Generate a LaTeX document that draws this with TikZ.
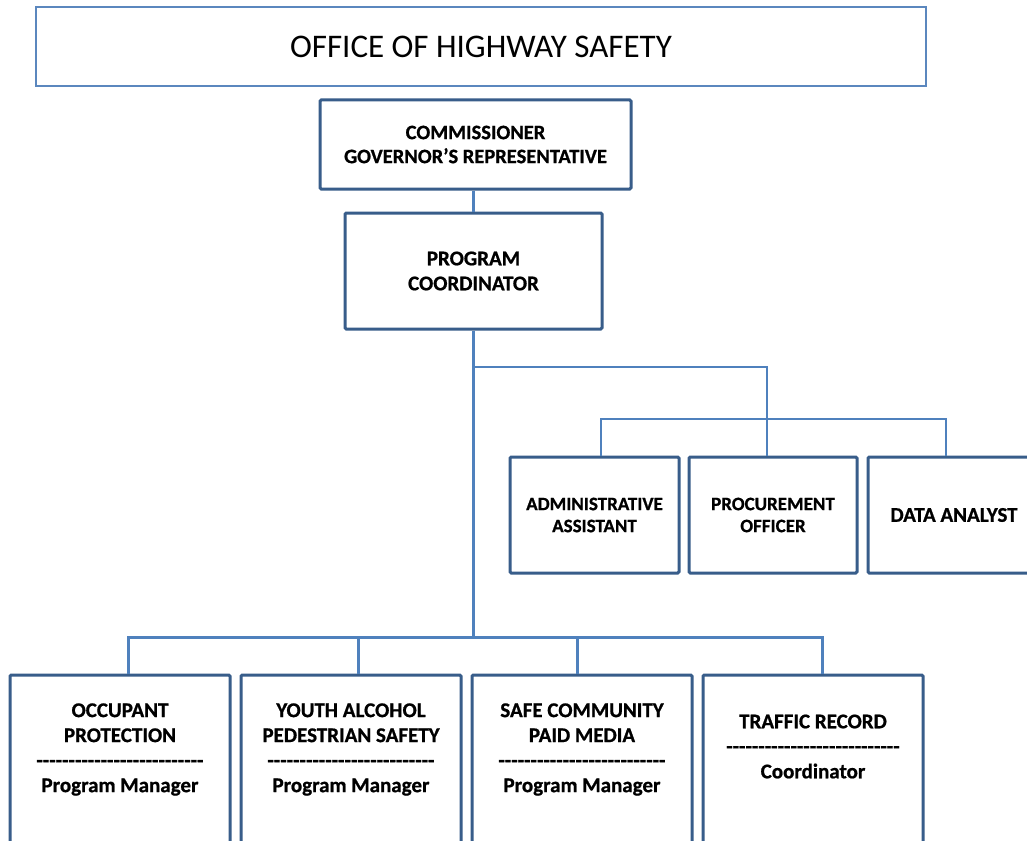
\documentclass[tikz,border=0pt]{standalone}
\usepackage{fontspec}
\setmainfont{Carlito}[BoldFeatures={FakeBold=0.8}]
\usetikzlibrary{calc}
\definecolor{boxblue}{HTML}{385D8A}
\definecolor{linkblue}{HTML}{4F81BD}
\definecolor{titleblue}{HTML}{5B87BE}
\newcommand{\hyrow}[1]{\foreach \k in {1,...,#1}{-}}
\begin{document}
\begin{tikzpicture}[x=1pt,y=-1pt,
  box/.style={draw=boxblue, line width=3pt, rounded corners=1.2pt, fill=white, inner sep=0pt, align=center},
  bigfont/.style={font=\fontsize{21}{25}\selectfont\bfseries},
  midfont/.style={font=\fontsize{19}{22}\selectfont\bfseries},
  titlebox/.style={draw=titleblue, line width=1.5pt, fill=white, inner sep=0pt, font=\fontsize{33}{40}\selectfont},
  txt/.style={inner sep=0pt, align=center, font=\fontsize{21}{25}\selectfont\bfseries},
  conn/.style={draw=linkblue, line width=3pt},
  thinconn/.style={draw=linkblue, line width=2pt}]
\useasboundingbox (0,0) rectangle (1027,840);
\fill[white] (0,0) rectangle (1027,840);
\clip (0,0) rectangle (1027,840);

% title
\node[titlebox, minimum width=890, minimum height=79] (title) at (481,46.5) {OFFICE OF HIGHWAY SAFETY};

% top chain
\node[box, bigfont, font=\fontsize{20.5}{24}\selectfont\bfseries, minimum width=311, minimum height=89] (comm) at (475.5,144.5) {COMMISSIONER\\GOVERNOR’S REPRESENTATIVE};
\node[box, bigfont, minimum width=257, minimum height=116] (prog) at (473.5,271) {PROGRAM\\COORDINATOR};

% middle row
\node[box, midfont, minimum width=169, minimum height=116] (admin) at (594.5,515) {ADMINISTRATIVE\\ASSISTANT};
\node[box, midfont, minimum width=168, minimum height=116] (proc) at (773,515) {PROCUREMENT\\OFFICER};
\node[box, bigfont, minimum width=172, minimum height=116] (data) at (954,515) {DATA ANALYST};

% bottom row
\node[box, minimum width=220, minimum height=195] (op) at (120,772.5) {};
\node[box, minimum width=220, minimum height=195] (yo) at (351,772.5) {};
\node[box, minimum width=220, minimum height=195] (sc) at (582,772.5) {};
\node[box, minimum width=220, minimum height=195] (tr) at (813,772.5) {};

\node[txt] (opt) at ($(op.north)+(0,76)$) {OCCUPANT\\PROTECTION\\\hyrow{26}\\Program Manager};
\node[txt] (yot) at ($(yo.north)+(0,76)$) {YOUTH ALCOHOL\\PEDESTRIAN SAFETY\\\hyrow{26}\\Program Manager};
\node[txt] (sct) at ($(sc.north)+(0,76)$) {SAFE COMMUNITY\\PAID MEDIA\\\hyrow{26}\\Program Manager};
\node[txt] (trt) at ($(tr.north)+(0,73)$) {TRAFFIC RECORD\\\hyrow{27}\\Coordinator};

% connectors
\coordinate (bus1) at (473.5,367);
\coordinate (bus2) at (473.5,637);
\coordinate (pv) at (767,367);
\coordinate (hl) at (601,419);
\coordinate (hr) at (946,419);
\coordinate (bl) at (128,637);
\coordinate (br) at (822,637);
\coordinate (yv) at (358,637);
\coordinate (sv) at (577,637);

\draw[thinconn, line width=2.5pt] (prog.north |- comm.south) -- (prog.north);
\draw[conn] (prog.south) -- (bus2);
\draw[thinconn] (bus1) -- (pv) -- (pv |- proc.north);
\draw[thinconn] (hl |- admin.north) -- (hl) -- (hr) -- (hr |- data.north);
\draw[conn] (bl |- op.north) -- (bl) -- (br) -- (br |- tr.north);
\draw[conn] (yv) -- (yv |- yo.north);
\draw[conn] (sv) -- (sv |- sc.north);
\end{tikzpicture}
\end{document}
